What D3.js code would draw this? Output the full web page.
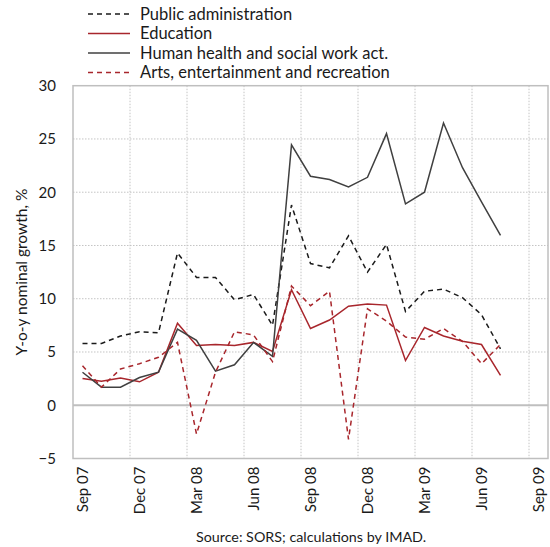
<!DOCTYPE html>
<html>
<head>
<meta charset="utf-8">
<script src="https://cdn.jsdelivr.net/npm/d3@7"></script>
<style>
  body { margin: 0; background: #fff; }
  svg text { font-family: Lato, "Open Sans", sans-serif; fill: #1a1a1a; }
</style>
</head>
<body>
<svg id="chart" width="550" height="547"></svg>
<script>
// Axis categories (monthly), Sep 07 .. Sep 09
const categories = ["Sep 07","Oct 07","Nov 07","Dec 07","Jan 08","Feb 08","Mar 08","Apr 08","May 08","Jun 08","Jul 08","Aug 08",
  "Sep 08","Oct 08","Nov 08","Dec 08","Jan 09","Feb 09","Mar 09","Apr 09","May 09","Jun 09","Jul 09","Aug 09","Sep 09"];
const tickLabels = ["Sep 07","Dec 07","Mar 08","Jun 08","Sep 08","Dec 08","Mar 09","Jun 09","Sep 09"];
const yTicks = [-5, 0, 5, 10, 15, 20, 25, 30];

// Series values (Sep 07 .. Jul 09)
const publicAdmin = [5.8, 5.8, 6.5, 6.9, 6.8, 14.3, 12.0, 12.0, 9.9, 10.4, 7.5, 18.8, 13.3, 12.9, 15.9, 12.5, 15.1, 8.8, 10.7, 10.9, 10.1, 8.5, 5.3];
const education   = [2.5, 2.25, 2.55, 2.2, 3.1, 7.7, 5.6, 5.7, 5.6, 5.9, 5.05, 10.85, 7.2, 8.0, 9.3, 9.5, 9.4, 4.2, 7.3, 6.5, 6.0, 5.7, 2.8];
const health      = [3.1, 1.7, 1.7, 2.6, 3.1, 7.15, 6.1, 3.2, 3.8, 5.9, 4.6, 24.45, 21.5, 21.2, 20.5, 21.4, 25.5, 18.9, 20.0, 26.5, 22.3, 19.1, 15.95];
const arts        = [3.7, 1.7, 3.4, 3.9, 4.5, 5.9, -2.7, 3.1, 6.9, 6.6, 4.1, 11.2, 9.35, 10.7, -3.2, 9.05, 7.9, 6.4, 6.2, 7.2, 6.0, 3.9, 5.7];

const seriesNames = ["Public administration", "Education", "Human health and social work act.", "Arts, entertainment and recreation"];
const seriesValues = [publicAdmin, education, health, arts];
const seriesColors = ["#1a1a1a", "#a8262c", "#404040", "#a8262c"];
const seriesDash = ["5,4", null, null, "5,4"];

const svg = d3.select("#chart");
const L = 73, R = 548, T = 85.7, B = 458.5;

const x = d3.scaleBand().domain(categories).range([L, R]).padding(0);
const y = d3.scaleLinear().domain([-5, 30]).range([B, T]);
const bw = x.bandwidth();

// gridlines
const grid = svg.append("g");
grid.selectAll("line.h").data(yTicks.filter(v => v > -5 && v < 30 && v !== 0)).join("line")
  .attr("x1", L).attr("x2", R).attr("y1", d => y(d)).attr("y2", d => y(d))
  .attr("stroke", "#c4c4c4").attr("stroke-width", 1).attr("stroke-dasharray", "1.5,1.5");
grid.selectAll("line.v").data(tickLabels.slice(1)).join("line")
  .attr("x1", d => x(d)).attr("x2", d => x(d)).attr("y1", T).attr("y2", B)
  .attr("stroke", "#c4c4c4").attr("stroke-width", 1).attr("stroke-dasharray", "1.5,1.5");

// border
svg.append("rect").attr("x", L).attr("y", T).attr("width", R - L).attr("height", B - T)
  .attr("fill", "none").attr("stroke", "#bfbfbf").attr("stroke-width", 1.5);

// zero line
svg.append("line").attr("x1", L).attr("x2", R).attr("y1", y(0)).attr("y2", y(0))
  .attr("stroke", "#bfbfbf").attr("stroke-width", 2);

// lines
const line = d3.line().x((d, i) => x(categories[i]) + bw / 2).y(d => y(d));
seriesValues.forEach((vals, k) => {
  svg.append("path").datum(vals).attr("d", line)
    .attr("fill", "none").attr("stroke", seriesColors[k]).attr("stroke-width", 1.5)
    .attr("stroke-linejoin", "miter")
    .attr("stroke-dasharray", seriesDash[k]);
});

// y axis
const yAxis = svg.append("g").attr("transform", `translate(${L},0)`)
  .call(d3.axisLeft(y).tickValues(yTicks).tickSize(0).tickPadding(17).tickFormat(d3.format("d")));
yAxis.select(".domain").remove();
yAxis.selectAll("text").style("font-size", "15px").style("font-family", "Lato, sans-serif").attr("fill", "#1a1a1a");

// x axis
const xAxis = svg.append("g").attr("transform", `translate(0,${B})`)
  .call(d3.axisBottom(x).tickValues(tickLabels).tickSize(0));
xAxis.select(".domain").remove();
xAxis.selectAll("text")
  .attr("transform", "rotate(-90)").attr("text-anchor", "end")
  .attr("x", -8).attr("y", 0).attr("dy", "0.35em")
  .style("font-size", "15px").style("font-family", "Lato, sans-serif").attr("fill", "#1a1a1a");

// y title
svg.append("text").attr("transform", "rotate(-90)")
  .attr("x", -(T + B) / 2).attr("y", 22).attr("dy", "0.35em")
  .attr("text-anchor", "middle").style("font-size", "15.5px")
  .text("Y-o-y nominal growth, %");

// source
svg.append("text").attr("x", 311).attr("y", 537).attr("dy", "0.35em")
  .attr("text-anchor", "middle").style("font-size", "14.3px")
  .text("Source: SORS; calculations by IMAD.");

// legend
const legendY = [14, 33.5, 53, 72.5];
seriesNames.forEach((name, k) => {
  const g = svg.append("g");
  g.append("line").attr("x1", 88).attr("x2", 130).attr("y1", legendY[k]).attr("y2", legendY[k])
    .attr("stroke", seriesColors[k]).attr("stroke-width", 1.5).attr("stroke-dasharray", seriesDash[k]);
  g.append("text").attr("x", 140).attr("y", legendY[k]).attr("dy", "0.35em")
    .style("font-size", "16.5px").text(name);
});
</script>
</body>
</html>
